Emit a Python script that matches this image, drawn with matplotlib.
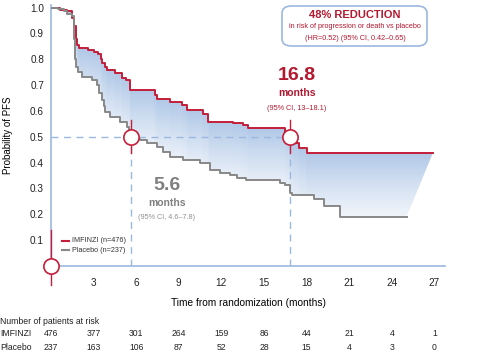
import matplotlib
matplotlib.use("Agg")
import matplotlib.pyplot as plt
import numpy as np
from matplotlib.patches import FancyBboxPatch, Polygon

plt.rcParams['font.family'] = ['Liberation Sans', 'DejaVu Sans']

# KM 曲线数据 (steps-post)
imfinzi_t = [0, 0.6, 1.1, 1.45, 1.6, 1.75, 1.83, 1.95, 2.6, 3.0, 3.3, 3.5, 3.6, 3.8, 3.95,
             4.5, 5.0, 5.3, 5.56, 7.3, 7.45, 8.4, 9.2, 9.56, 10.7, 11.08, 12.84, 13.54,
             13.9, 16.5, 16.83, 17.06, 17.5, 18.0, 26.9]
imfinzi_v = [1.0, 0.99, 0.985, 0.96, 0.93, 0.88, 0.855, 0.842, 0.835, 0.828, 0.82, 0.80,
             0.784, 0.77, 0.758, 0.745, 0.728, 0.72, 0.681, 0.66, 0.645, 0.636, 0.623,
             0.603, 0.59, 0.558, 0.552, 0.545, 0.533, 0.515, 0.49, 0.475, 0.455, 0.438, 0.438]
placebo_t = [0, 0.5, 0.9, 1.1, 1.45, 1.6, 1.65, 1.7, 1.75, 1.9, 2.16, 2.87, 3.22, 3.4, 3.57,
             3.7, 3.8, 4.15, 4.86, 5.33, 5.5, 5.6, 6.0, 6.27, 6.74, 7.44, 7.9, 8.38, 9.32,
             10.5, 11.2, 11.9, 12.6, 13.1, 13.7, 16.1, 16.5, 16.8, 16.95, 18.5, 19.2,
             20.35, 25.05]
placebo_v = [1.0, 0.995, 0.985, 0.977, 0.967, 0.94, 0.88, 0.80, 0.771, 0.752, 0.732, 0.72,
             0.70, 0.668, 0.642, 0.62, 0.597, 0.578, 0.558, 0.539, 0.52, 0.5, 0.49, 0.487,
             0.475, 0.462, 0.442, 0.423, 0.41, 0.397, 0.371, 0.359, 0.352, 0.339, 0.333,
             0.32, 0.313, 0.281, 0.275, 0.258, 0.232, 0.191, 0.191]

median_imfinzi = 16.8
median_placebo = 5.6

x_ticks = [3, 6, 9, 12, 15, 18, 21, 24, 27]
y_ticks = [0.1, 0.2, 0.3, 0.4, 0.5, 0.6, 0.7, 0.8, 0.9, 1.0]
risk_months = [0, 3, 6, 9, 12, 15, 18, 21, 24, 27]
risk_imfinzi = [476, 377, 301, 264, 159, 86, 44, 21, 4, 1]
risk_placebo = [237, 163, 106, 87, 52, 28, 15, 4, 3, 0]

RED = '#c41e3a'
DARKRED = '#b3182f'
GRAY = '#888888'
LBLUE = '#9bb8e0'
TXT = '#222222'

W, H = 484, 355
fig = plt.figure(figsize=(W / 100, H / 100), dpi=100)


def px(x, y):
    return x / W, 1 - y / H


ax = fig.add_axes([51 / W, (H - 266) / H, 394 / W, 261 / H])
ax.set_xlim(0, 27.75)
ax.set_ylim(0, 1.01)


def step_vertices(t, v):
    pts = []
    for i in range(len(t)):
        pts.append((t[i], v[i]))
        if i + 1 < len(t):
            pts.append((t[i + 1], v[i]))
    return pts


# 渐变填充
poly_pts = step_vertices(imfinzi_t, imfinzi_v) + step_vertices(placebo_t, placebo_v)[::-1]
poly = Polygon(poly_pts, closed=True, facecolor='none', edgecolor='none')
ax.add_patch(poly)
gx = np.linspace(0, 27.75, 400)
gy = np.linspace(0, 1.01, 300)
GX, GY = np.meshgrid(gx, gy)
idx = np.clip(np.searchsorted(imfinzi_t, GX, side='right') - 1, 0, len(imfinzi_t) - 1)
red_at = np.array(imfinzi_v)[idx]
d = red_at - GY
w = np.clip(1 - d / 0.32, 0, 1) ** 1.3 * 0.9 + 0.05
blue = np.array([172, 197, 230]) / 255
img = np.ones(GX.shape + (3,)) * (1 - w[..., None]) + blue * w[..., None]
im = ax.imshow(img, extent=[0, 27.75, 0, 1.01], origin='lower', aspect='auto', zorder=1)
im.set_clip_path(poly)

# 虚线
ax.plot([0, median_imfinzi], [0.5, 0.5], color=LBLUE, lw=1, ls=(0, (5, 4)), zorder=2)
ax.plot([median_placebo, median_placebo], [0, 0.5], color=LBLUE, lw=1, ls=(0, (5, 4)), zorder=2)
ax.plot([median_imfinzi, median_imfinzi], [0, 0.5], color=LBLUE, lw=1, ls=(0, (5, 4)), zorder=2)

ax.plot(imfinzi_t, imfinzi_v, drawstyle='steps-post', color=RED, lw=1.4, zorder=3)
ax.plot(placebo_t, placebo_v, drawstyle='steps-post', color=GRAY, lw=1.4, zorder=3)

# 中位数标记
for m in [median_placebo, median_imfinzi]:
    ax.plot([m, m], [0.437, 0.565], color=RED, lw=1, zorder=4)
    ax.plot([m], [0.5], marker='o', ms=11, mfc='white', mec=RED, mew=1.2, zorder=5)
ax.plot([0, 0], [-0.073, 0.139], color=RED, lw=1, zorder=4, clip_on=False)
ax.plot([0], [0], marker='o', ms=11, mfc='white', mec=RED, mew=1.2, zorder=5, clip_on=False)

for s in ['top', 'right']:
    ax.spines[s].set_visible(False)
for s in ['left', 'bottom']:
    ax.spines[s].set_color(LBLUE)
    ax.spines[s].set_linewidth(1.2)
ax.set_xticks(x_ticks)
ax.set_yticks(y_ticks)
ax.set_yticklabels([f'{v:.1f}' for v in y_ticks])
ax.tick_params(length=0, labelsize=7.2, colors=TXT)
ax.tick_params(axis='y', pad=5)
ax.tick_params(axis='x', pad=9)
ax.set_ylabel('Probability of PFS', fontsize=7, va='center')
ax.yaxis.set_label_coords(-0.11, 0.5)
ax.set_xlabel('Time from randomization (months)', fontsize=7.3, va='center')
ax.xaxis.set_label_coords(0.5, -0.142)

# 图例
fig.add_artist(plt.Line2D([62 / W, 69 / W], [px(0, 241)[1]] * 2, color=RED, lw=1.5))
fig.add_artist(plt.Line2D([62 / W, 69 / W], [px(0, 250)[1]] * 2, color=GRAY, lw=1.5))
fig.text(*px(72, 241), 'IMFINZI (n=476)', fontsize=5.2, va='center', color='#333333')
fig.text(*px(72, 250), 'Placebo (n=237)', fontsize=5.2, va='center', color='#333333')

# 注释
fig.text(*px(297, 76), '16.8', fontsize=14, fontweight='bold', color=DARKRED, ha='center', va='center')
fig.text(*px(297, 93), 'months', fontsize=7.5, fontweight='bold', color=DARKRED, ha='center', va='center')
fig.text(*px(297, 108), '(95% CI, 13\u201318.1)', fontsize=5.2, color=DARKRED, ha='center', va='center')
fig.text(*px(167, 185), '5.6', fontsize=14, fontweight='bold', color='#808080', ha='center', va='center')
fig.text(*px(167, 203), 'months', fontsize=7.5, fontweight='bold', color='#808080', ha='center', va='center')
fig.text(*px(167, 218), '(95% CI, 4.6\u20137.8)', fontsize=5.2, color='#909090', ha='center', va='center')

box = FancyBboxPatch((282 / W, (H - 46) / H), 145 / W, 40 / H, transform=fig.transFigure,
                     boxstyle='round,pad=0.0,rounding_size=0.02', facecolor='white',
                     edgecolor=LBLUE, lw=1.2)
fig.add_artist(box)
fig.text(*px(355, 15), '48% REDUCTION', fontsize=8, fontweight='bold', color=DARKRED, ha='center', va='center')
fig.text(*px(355, 27), 'in risk of progression or death vs placebo', fontsize=5.2, color=DARKRED, ha='center', va='center')
fig.text(*px(355, 38), '(HR=0.52) (95% CI, 0.42\u20130.65)', fontsize=5.2, color=DARKRED, ha='center', va='center')

# 风险人数表
trans = ax.get_xaxis_transform()
fig.text(*px(0, 321), 'Number of patients at risk', fontsize=6.2, va='center', color=TXT)
fig.text(*px(0, 333), 'IMFINZI', fontsize=6.2, va='center', color=TXT)
fig.text(*px(0, 347), 'Placebo', fontsize=6.2, va='center', color=TXT)
y1 = (H - 333 - (H - 266)) / 261
y2 = (H - 347 - (H - 266)) / 261
for m, a, b in zip(risk_months, risk_imfinzi, risk_placebo):
    ax.text(m, y1, str(a), transform=trans, fontsize=6.2, ha='center', va='center', color=TXT, clip_on=False)
    ax.text(m, y2, str(b), transform=trans, fontsize=6.2, ha='center', va='center', color=TXT, clip_on=False)

fig.savefig('out.png', dpi=100)
